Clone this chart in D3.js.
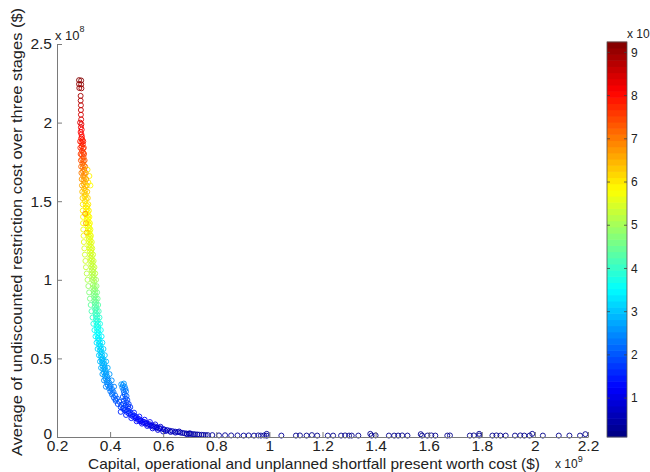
<!DOCTYPE html>
<html>
<head>
<meta charset="utf-8">
<script src="https://cdn.jsdelivr.net/npm/d3@7/dist/d3.min.js"></script>
<style>
  body { margin: 0; background: #fff; }
  svg { display: block; }
  text { font-family: Arial, "Liberation Sans", sans-serif; fill: #222; }
</style>
</head>
<body>
<svg id="chart" width="650" height="472"></svg>
<script>
// Each point: [present worth cost (x 1e9 $), avg restriction cost (x 1e8 $), colour value]
const redTip = [
  [0.283,2.270,9.2],[0.291,2.268,9.2],[0.283,2.245,9.1],[0.291,2.243,9.1],[0.284,2.220,9.0],[0.292,2.218,9.0],
  [0.289,2.170,8.9],[0.289,2.140,8.8],[0.290,2.110,8.7],[0.290,2.080,8.6],[0.290,2.050,8.5],[0.291,2.020,8.4],
  [0.287,2.000,8.4],[0.292,1.990,8.3],[0.290,1.970,8.2],[0.293,1.955,8.2],[0.289,1.940,8.1],[0.292,1.925,8.1],[0.294,1.910,8.0]
];
const orangeBand = [
  [0.291,1.900,8.0],[0.296,1.890,7.9],[0.292,1.875,7.9],[0.297,1.862,7.8],[0.293,1.848,7.8],[0.298,1.835,7.7],
  [0.294,1.820,7.6],[0.299,1.808,7.6],[0.294,1.795,7.5],[0.300,1.780,7.4],[0.295,1.768,7.3],[0.300,1.755,7.3],
  [0.296,1.740,7.2],[0.301,1.728,7.1],[0.297,1.715,7.0],[0.302,1.700,7.0],[0.298,1.688,6.9],[0.303,1.675,6.8],
  [0.299,1.660,6.8],[0.304,1.648,6.7],[0.300,1.635,6.6],[0.305,1.620,6.6],[0.301,1.608,6.5],[0.306,1.595,6.4],
  [0.302,1.580,6.4],[0.307,1.568,6.3],[0.303,1.555,6.3],[0.308,1.540,6.2],[0.304,1.528,6.2],[0.309,1.515,6.1],
  [0.305,1.500,6.1],[0.315,1.700,6.0],[0.322,1.660,5.9],[0.318,1.620,5.9],[0.326,1.600,5.8]
];
const yellowBand = [
  [0.308,1.48,6.0],[0.314,1.47,6.0],[0.309,1.46,6.0],[0.315,1.45,5.9],[0.310,1.44,5.9],[0.316,1.43,5.9],
  [0.311,1.42,5.9],[0.317,1.41,5.9],[0.312,1.40,5.8],[0.318,1.39,5.8],[0.313,1.38,5.8],[0.319,1.37,5.8],
  [0.315,1.36,5.8],[0.321,1.35,5.8],[0.316,1.34,5.7],[0.322,1.33,5.7],[0.317,1.32,5.7],[0.323,1.31,5.7],
  [0.318,1.30,5.7],[0.324,1.29,5.7],[0.319,1.28,5.6],[0.325,1.27,5.6],[0.320,1.26,5.6],[0.326,1.25,5.6],
  [0.321,1.24,5.6],[0.327,1.23,5.6],[0.322,1.22,5.5],[0.328,1.21,5.5],[0.323,1.20,5.5],[0.329,1.19,5.5],
  [0.324,1.18,5.5],[0.330,1.17,5.5],[0.325,1.16,5.4],[0.331,1.15,5.4],[0.326,1.14,5.4],[0.332,1.13,5.4],
  [0.328,1.12,5.4],[0.334,1.11,5.3],[0.329,1.10,5.3],[0.335,1.09,5.3],[0.330,1.08,5.3],[0.336,1.07,5.3],
  [0.331,1.06,5.2],[0.337,1.05,5.2],[0.332,1.04,5.2],[0.338,1.03,5.2],[0.333,1.02,5.1],[0.339,1.01,5.1],
  [0.334,1.00,5.1],[0.340,0.99,5.0],[0.306,1.42,6.8],[0.309,1.36,6.6],[0.312,1.30,6.4]
];
const greenBand = [
  [0.336,0.97,5.0],[0.342,0.96,4.9],[0.337,0.95,4.9],[0.343,0.94,4.8],[0.338,0.93,4.8],[0.344,0.92,4.7],
  [0.339,0.91,4.7],[0.345,0.90,4.6],[0.340,0.89,4.6],[0.346,0.88,4.6],[0.341,0.87,4.5],[0.347,0.86,4.5],
  [0.342,0.85,4.4],[0.348,0.84,4.4],[0.343,0.83,4.3],[0.349,0.82,4.3],[0.344,0.81,4.2],[0.350,0.80,4.2],
  [0.345,0.79,4.1],[0.351,0.78,4.1],[0.346,0.77,4.0],[0.352,0.76,4.0],[0.347,0.75,3.9],[0.353,0.74,3.9],
  [0.348,0.73,3.8],[0.354,0.72,3.8],[0.349,0.71,3.7],[0.355,0.70,3.7],[0.350,0.69,3.7],[0.356,0.68,3.6],
  [0.351,0.67,3.6],[0.357,0.66,3.5],[0.352,0.65,3.5],[0.358,0.64,3.5],[0.354,0.63,3.4],[0.360,0.62,3.4],
  [0.356,0.61,3.3],[0.362,0.60,3.3],[0.358,0.59,3.3],[0.364,0.58,3.2],[0.360,0.57,3.2],[0.366,0.56,3.2],
  [0.362,0.55,3.1],[0.368,0.54,3.1],[0.364,0.53,3.1],[0.370,0.52,3.0],[0.366,0.51,3.0],[0.372,0.50,3.0]
];
// outer edges of the front, where it spreads sideways
const bandLeft = [
  [0.287,1.88,7.9],[0.288,1.84,7.8],[0.289,1.80,7.6],[0.290,1.76,7.4],[0.291,1.72,7.2],[0.292,1.68,7.0],
  [0.293,1.64,6.8],[0.294,1.60,6.6],[0.295,1.56,6.4],[0.296,1.52,6.2],[0.297,1.48,6.0],[0.297,1.44,5.9],
  [0.298,1.40,5.8],[0.298,1.36,5.8],[0.299,1.32,5.7],[0.300,1.28,5.7],[0.301,1.24,5.6],[0.303,1.20,5.5],
  [0.305,1.16,5.4],[0.307,1.12,5.4],[0.309,1.08,5.3],[0.312,1.04,5.2],[0.315,1.00,5.1],[0.318,0.96,4.9],
  [0.321,0.92,4.7],[0.324,0.88,4.6],[0.327,0.84,4.4],[0.330,0.80,4.2],[0.334,0.76,4.0],[0.337,0.72,3.8],
  [0.341,0.68,3.6],[0.345,0.64,3.5],[0.349,0.60,3.3],[0.353,0.56,3.2],[0.358,0.52,3.1],[0.362,0.48,2.9],
  [0.366,0.44,2.8],[0.371,0.40,2.7],[0.377,0.36,2.5],[0.384,0.32,2.4]
];
const bandRight = [
  [0.299,1.88,7.9],[0.301,1.84,7.7],[0.302,1.80,7.5],[0.304,1.76,7.3],[0.306,1.72,7.1],[0.308,1.68,6.9],
  [0.310,1.64,6.7],[0.312,1.60,6.5],[0.314,1.56,6.3],[0.316,1.52,6.2],[0.318,1.48,6.0],[0.320,1.44,5.9],
  [0.322,1.40,5.8],[0.324,1.36,5.8],[0.326,1.32,5.7],[0.328,1.28,5.7],[0.331,1.24,5.6],[0.333,1.20,5.5],
  [0.336,1.16,5.4],[0.338,1.12,5.4],[0.341,1.08,5.3],[0.344,1.04,5.2],[0.347,1.00,5.0],[0.349,0.96,4.8],
  [0.351,0.92,4.6],[0.353,0.88,4.5],[0.355,0.84,4.3],[0.357,0.80,4.1],[0.360,0.76,3.9],[0.362,0.72,3.7],
  [0.365,0.68,3.6],[0.368,0.64,3.4],[0.371,0.60,3.3],[0.375,0.56,3.1],[0.380,0.52,3.0],[0.385,0.48,2.9],
  [0.391,0.44,2.8],[0.398,0.40,2.6],[0.406,0.36,2.5],[0.415,0.32,2.4]
];
const cyanBend = [
  [0.368,0.49,2.9],[0.376,0.485,2.9],[0.370,0.47,2.9],[0.378,0.465,2.8],[0.372,0.45,2.8],[0.380,0.445,2.8],
  [0.374,0.43,2.8],[0.383,0.425,2.7],[0.377,0.41,2.7],[0.386,0.405,2.7],[0.380,0.39,2.6],[0.389,0.385,2.6],
  [0.383,0.37,2.6],[0.393,0.365,2.5],[0.387,0.35,2.5],[0.397,0.345,2.5],[0.391,0.33,2.4],[0.402,0.325,2.4],
  [0.396,0.31,2.4],[0.407,0.305,2.3],[0.401,0.29,2.3],[0.413,0.285,2.3],[0.407,0.27,2.2],[0.419,0.265,2.2],
  [0.414,0.25,2.1],[0.426,0.245,2.1],[0.421,0.23,2.0],[0.434,0.225,2.0],[0.429,0.21,1.9],[0.442,0.205,1.9],
  [0.372,0.48,2.9],[0.378,0.44,2.8],[0.384,0.40,2.7],[0.390,0.36,2.5],[0.398,0.32,2.4],[0.408,0.28,2.3],[0.420,0.24,2.1]
];
const bump = [
  [0.442,0.335,2.6],[0.448,0.330,2.5],[0.452,0.340,2.6],[0.446,0.315,2.4],[0.455,0.320,2.5],[0.450,0.300,2.3],
  [0.458,0.305,2.4],[0.452,0.285,2.2],[0.460,0.290,2.3],[0.455,0.270,2.1],[0.462,0.260,2.1],[0.448,0.255,2.0],
  [0.458,0.245,2.0],[0.465,0.235,1.9],[0.452,0.230,1.9],[0.462,0.220,1.8],[0.470,0.210,1.8],[0.458,0.200,1.8],
  [0.468,0.195,1.7],[0.476,0.190,1.7]
];
const blueBand = [
  [0.440,0.190,1.8],[0.452,0.185,1.8],[0.448,0.180,1.7],[0.460,0.175,1.7],[0.455,0.170,1.7],[0.468,0.165,1.6],
  [0.462,0.160,1.6],[0.476,0.155,1.6],[0.470,0.150,1.5],[0.484,0.145,1.5],[0.478,0.140,1.5],[0.492,0.135,1.4],
  [0.486,0.130,1.4],[0.500,0.125,1.4],[0.495,0.120,1.3],[0.508,0.115,1.3],[0.504,0.110,1.3],[0.517,0.105,1.2],
  [0.513,0.100,1.2],[0.527,0.097,1.2],[0.523,0.093,1.1],[0.537,0.089,1.1],[0.533,0.085,1.1],[0.547,0.082,1.0],
  [0.543,0.078,1.0],[0.557,0.074,1.0],[0.553,0.071,0.9],[0.567,0.068,0.9],[0.563,0.065,0.9],[0.577,0.062,0.9],
  [0.574,0.059,0.8],[0.588,0.056,0.8],[0.585,0.053,0.8],[0.600,0.050,0.8],
  [0.440,0.160,1.6],[0.450,0.210,1.9],[0.460,0.140,1.5],[0.470,0.180,1.7],[0.480,0.120,1.4],[0.490,0.155,1.5],
  [0.500,0.100,1.3],[0.510,0.130,1.4],[0.520,0.085,1.2],[0.530,0.110,1.3],[0.540,0.070,1.1],[0.550,0.095,1.2],
  [0.560,0.055,1.0],[0.570,0.080,1.0],[0.580,0.045,0.9],[0.590,0.065,0.9],[0.600,0.035,0.8]
];
const navyBand = [
  [0.605,0.047,0.7],[0.615,0.044,0.7],[0.625,0.040,0.7],[0.635,0.037,0.6],[0.645,0.034,0.6],[0.655,0.031,0.6],
  [0.665,0.028,0.6],[0.672,0.026,0.5],[0.680,0.024,0.5],[0.688,0.022,0.5],[0.697,0.020,0.5],[0.705,0.019,0.5],
  [0.713,0.018,0.4],[0.720,0.017,0.4],[0.728,0.016,0.4],[0.735,0.015,0.4],[0.745,0.014,0.4],[0.752,0.013,0.4],
  [0.760,0.012,0.4],[0.768,0.012,0.3],[0.610,0.038,0.7],[0.628,0.032,0.6],[0.646,0.028,0.6],[0.660,0.035,0.6],
  [0.690,0.017,0.5],[0.700,0.024,0.5]
];
const tail = [
  [0.785,0.012,0.3],[0.810,0.010,0.3],[0.833,0.011,0.3],[0.856,0.010,0.3],[0.880,0.010,0.3],[0.903,0.009,0.3],
  [0.922,0.010,0.3],[0.942,0.009,0.3],[0.958,0.010,0.3],[0.968,0.009,0.3],[0.980,0.010,0.3],[0.990,0.020,0.3],
  [0.990,0.008,0.3],[1.045,0.009,0.3],[1.100,0.009,0.2],[1.115,0.010,0.2],[1.140,0.009,0.2],[1.160,0.012,0.2],
  [1.180,0.009,0.2],[1.220,0.009,0.2],[1.240,0.009,0.2],[1.270,0.009,0.2],[1.285,0.010,0.2],[1.300,0.009,0.2],
  [1.310,0.009,0.2],[1.335,0.009,0.2],[1.380,0.020,0.2],[1.385,0.009,0.2],[1.400,0.010,0.2],[1.450,0.009,0.2],
  [1.470,0.009,0.2],[1.485,0.009,0.2],[1.500,0.010,0.2],[1.520,0.009,0.2],[1.570,0.018,0.2],[1.575,0.009,0.2],
  [1.595,0.009,0.2],[1.610,0.010,0.2],[1.625,0.009,0.2],[1.670,0.009,0.2],[1.680,0.010,0.2],[1.755,0.009,0.2],
  [1.770,0.010,0.2],[1.790,0.020,0.2],[1.790,0.009,0.2],[1.840,0.009,0.2],[1.855,0.010,0.2],[1.870,0.009,0.2],
  [1.890,0.009,0.2],[1.925,0.009,0.2],[1.945,0.010,0.2],[1.960,0.009,0.2],[1.980,0.009,0.2],[1.990,0.020,0.2],
  [2.030,0.009,0.2],[2.090,0.009,0.2],[2.130,0.009,0.2],[2.170,0.009,0.2],[2.190,0.018,0.2]
];

const xTicks = [0.2, 0.4, 0.6, 0.8, 1, 1.2, 1.4, 1.6, 1.8, 2, 2.2];
const yTicks = [0, 0.5, 1, 1.5, 2, 2.5];
const colourTicks = [1, 2, 3, 4, 5, 6, 7, 8, 9];
const colourRange = [0.1, 9.24];

const xLabel = "Capital, operational and unplanned shortfall present worth cost ($)";
const yLabel = "Average of undiscounted restriction cost over three stages ($)";

const points = [].concat(redTip, orangeBand, bandLeft, bandRight, yellowBand, greenBand,
                         cyanBend, bump, blueBand, navyBand, tail);

// MATLAB-style jet colormap
function jet(t) {
  t = Math.max(0, Math.min(1, t));
  const f = v => Math.max(0, Math.min(1, v));
  return d3.rgb(255 * f(1.5 - Math.abs(4 * t - 3)),
                255 * f(1.5 - Math.abs(4 * t - 2)),
                255 * f(1.5 - Math.abs(4 * t - 1))).formatHex();
}

const svg = d3.select("#chart");
const axisColour = "#7a7a7a";

const x = d3.scaleLinear().domain([0.2, 2.2]).range([57, 588]);
const y = d3.scaleLinear().domain([0, 2.5]).range([437, 44]);
const cNorm = d3.scaleLinear().domain(colourRange).range([0, 1]);

// scatter markers (open circles)
svg.append("g")
  .selectAll("circle")
  .data(points)
  .join("circle")
  .attr("cx", d => x(d[0]))
  .attr("cy", d => y(d[1]))
  .attr("r", 2.5)
  .attr("fill", "none")
  .attr("stroke", d => jet(cNorm(d[2])))
  .attr("stroke-width", 0.9);

// axes (ticks point inward)
const gx = svg.append("g").attr("transform", "translate(0,437)")
  .call(d3.axisBottom(x).tickValues(xTicks).tickFormat(d => String(d))
        .tickSizeInner(-5).tickSizeOuter(0).tickPadding(3));
const gy = svg.append("g").attr("transform", "translate(57,0)")
  .call(d3.axisLeft(y).tickValues(yTicks).tickFormat(d => String(d))
        .tickSizeInner(-5).tickSizeOuter(0).tickPadding(5));
[gx, gy].forEach(g => {
  g.select(".domain").attr("stroke", axisColour);
  g.selectAll(".tick line").attr("stroke", axisColour);
  g.selectAll(".tick text").attr("fill", "#222").style("font-size", "15.5px")
    .style("font-family", "Arial, 'Liberation Sans', sans-serif");
});
// the bottom-left "0" sits a touch above its tick, clear of "0.2"
gy.selectAll(".tick text").filter(d => d === 0).attr("dy", "0.1em");

// exponent labels
const yExp = svg.append("text").attr("x", 55).attr("y", 40).style("font-size", "13px");
yExp.append("tspan").text("x 10");
yExp.append("tspan").attr("dy", -8).style("font-size", "9px").text("8");

const xExp = svg.append("text").attr("x", 555).attr("y", 468).style("font-size", "12px");
xExp.append("tspan").text("x 10");
xExp.append("tspan").attr("dy", -6).style("font-size", "9px").text("9");

// axis titles
svg.append("text")
  .attr("x", 314).attr("y", 469)
  .attr("text-anchor", "middle")
  .attr("textLength", 452)
  .attr("lengthAdjust", "spacingAndGlyphs")
  .style("font-size", "15px")
  .text(xLabel);

svg.append("text")
  .attr("transform", "translate(22,232) rotate(-90)")
  .attr("text-anchor", "middle")
  .attr("textLength", 448)
  .attr("lengthAdjust", "spacingAndGlyphs")
  .style("font-size", "15.5px")
  .text(yLabel);

// colour bar
const cbX = 607, cbW = 20;
const cbY = d3.scaleLinear().domain(colourRange).range([437, 42]);
const nSteps = 64;
const stepVals = d3.range(nSteps).map(i => colourRange[0] + (colourRange[1] - colourRange[0]) * i / nSteps);
const stepH = (colourRange[1] - colourRange[0]) / nSteps;
svg.append("g")
  .selectAll("rect")
  .data(stepVals)
  .join("rect")
  .attr("x", cbX)
  .attr("y", d => cbY(d + stepH) - 0.3)
  .attr("width", cbW)
  .attr("height", d => cbY(d) - cbY(d + stepH) + 0.6)
  .attr("fill", d => jet(cNorm(d + stepH / 2)));

svg.append("rect")
  .attr("x", cbX).attr("y", 42).attr("width", cbW).attr("height", 395)
  .attr("fill", "none").attr("stroke", "#555").attr("stroke-width", 0.8);

const cbTickG = svg.append("g").selectAll("g").data(colourTicks).join("g");
cbTickG.append("line")
  .attr("x1", cbX).attr("x2", cbX + 3)
  .attr("y1", d => cbY(d)).attr("y2", d => cbY(d))
  .attr("stroke", "#444").attr("stroke-width", 0.8);
cbTickG.append("line")
  .attr("x1", cbX + cbW - 3).attr("x2", cbX + cbW)
  .attr("y1", d => cbY(d)).attr("y2", d => cbY(d))
  .attr("stroke", "#444").attr("stroke-width", 0.8);
cbTickG.append("text")
  .attr("x", cbX + cbW + 4)
  .attr("y", d => cbY(d))
  .attr("dy", "0.35em")
  .style("font-size", "12px")
  .text(d => d);

svg.append("text").attr("x", 627).attr("y", 38).style("font-size", "12px").text("x 10");
</script>
</body>
</html>
